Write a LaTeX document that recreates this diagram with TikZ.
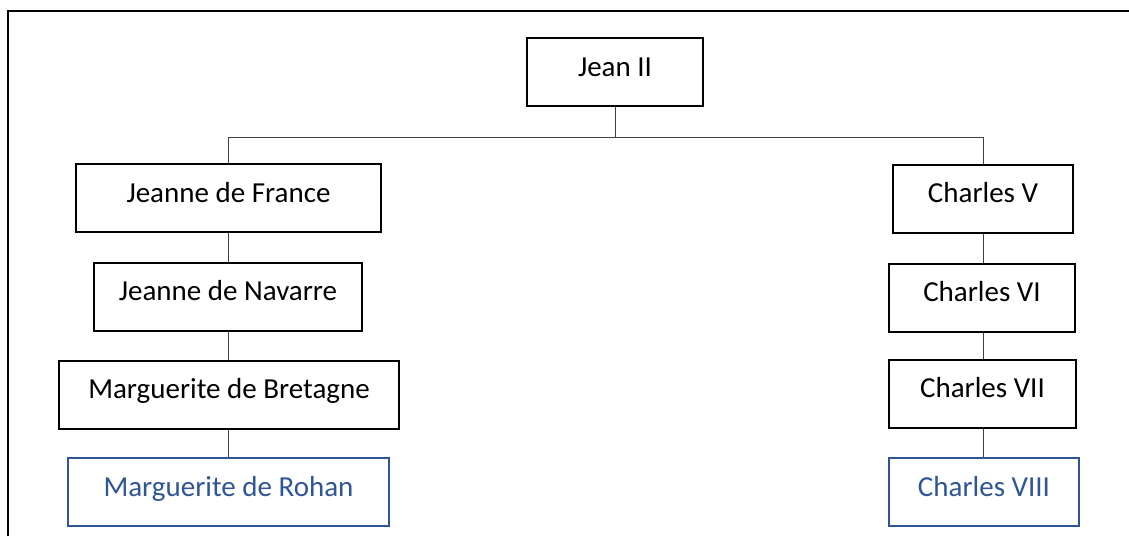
\documentclass[tikz,border=0pt]{standalone}
\usepackage{fontspec}
\setmainfont{Carlito}
\usepackage{xcolor}
\usetikzlibrary{positioning,calc}
\definecolor{heirblue}{HTML}{2F5597}
\definecolor{linkgray}{HTML}{404040}
\tikzset{
  person/.style={draw=black, line width=1.5pt, fill=white, align=center, minimum height=51pt, inner sep=2pt, text height=14pt, text depth=8pt},
  heir/.style={person, draw=heirblue, text=heirblue},
  link/.style={draw=linkgray, line width=0.75pt},
  frameline/.style={draw=black, line width=1.5pt}
}
\begin{document}
\begin{tikzpicture}[x=0.75pt, y=-0.75pt, font=\fontsize{21.75}{26}\selectfont]
  \useasboundingbox (0,0) rectangle (1129,536);
  \draw[frameline] (8,536) -- (8,11) -- (1129,11);

  \node[person, minimum width=132pt] (jean) at (615,72) {Jean II};
  \coordinate (bar) at (615,137);

  \node[person, minimum width=228.75pt] (jeanneF) at (228.5,198) {Jeanne de France};
  \node[person, minimum width=201pt] (jeanneN) at (228,296.5) {Jeanne de Navarre};
  \node[person, minimum width=255pt] (margB) at (229,394.5) {Marguerite de Bretagne};
  \node[heir, minimum width=240.75pt] (margR) at (228.5,492) {Marguerite de Rohan};

  \node[person, minimum width=135pt] (charlesV) at (983,198.5) {Charles V};
  \node[person, minimum width=139.5pt] (charlesVI) at (982,297.5) {Charles VI};
  \node[person, minimum width=140.25pt] (charlesVII) at (982.5,393.5) {Charles VII};
  \node[heir, minimum width=142.5pt] (charlesVIII) at (984,492) {Charles VIII};

  \draw[link] (jean) -- (bar);
  \draw[link] (bar) -| (jeanneF);
  \draw[link] (bar) -| (charlesV);
  \draw[link] (jeanneF.south) -- (jeanneF.south |- jeanneN.north);
  \draw[link] (jeanneF.south |- jeanneN.south) -- (jeanneF.south |- margB.north);
  \draw[link] (jeanneF.south |- margB.south) -- (jeanneF.south |- margR.north);
  \draw[link] (charlesV.south) -- (charlesV.south |- charlesVI.north);
  \draw[link] (charlesV.south |- charlesVI.south) -- (charlesV.south |- charlesVII.north);
  \draw[link] (charlesV.south |- charlesVII.south) -- (charlesV.south |- charlesVIII.north);
\end{tikzpicture}
\end{document}
